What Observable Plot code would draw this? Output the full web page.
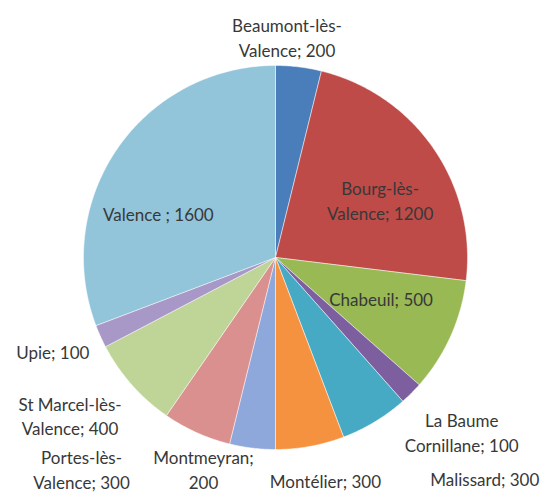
<!DOCTYPE html>
<html>
<head>
<meta charset="utf-8">
<script src="https://cdn.jsdelivr.net/npm/d3@7"></script>
<script src="https://cdn.jsdelivr.net/npm/@observablehq/plot@0.6"></script>
<style>
  html, body { margin: 0; padding: 0; background: #fff; }
  #chart { width: 546px; height: 495px; }
</style>
</head>
<body>
<div id="chart"></div>
<script>
// ---- data ----
const communes = [
  "Beaumont-lès-Valence", "Bourg-lès-Valence", "Chabeuil", "La Baume Cornillane",
  "Malissard", "Montélier", "Montmeyran", "Portes-lès-Valence",
  "St Marcel-lès-Valence", "Upie", "Valence"
];
const values = [200, 1200, 500, 100, 300, 300, 200, 300, 400, 100, 1600];
const labelTexts = [
  "Beaumont-lès-\nValence; 200", "Bourg-lès-\nValence; 1200", "Chabeuil; 500",
  "La Baume\nCornillane; 100", "Malissard; 300", "Montélier; 300",
  "Montmeyran;\n200", "Portes-lès-\nValence; 300", "St Marcel-lès-\nValence; 400",
  "Upie; 100", "Valence ; 1600"
];

// ---- styles / layout (kept separate from data) ----
const colors = [
  "#4A7EBB", "#BE4B48", "#98B954", "#7D5FA0", "#46AAC5", "#F59240",
  "#8FA8DC", "#D9908E", "#BED597", "#A898C8", "#92C4DA"
];
// label anchor positions in pie-radius units (x right, y up)
const labelX = [0.06, 0.545, 0.55, 0.97, 1.09, 0.26, -0.375, -1.01, -1.07, -1.16, -0.61];
const labelY = [1.15, 0.30, -0.21, -0.906, -1.15, -1.16, -1.10, -1.10, -0.82, -0.49, 0.23];

const pie = d3.pie().sort(null).value(d => d)(values);
const slicePts = [];
pie.forEach((a, i) => {
  slicePts.push({name: communes[i], x: 0, y: 0});
  const n = Math.max(4, Math.ceil((a.endAngle - a.startAngle) / 0.01));
  for (let k = 0; k <= n; k++) {
    const t = a.startAngle + (a.endAngle - a.startAngle) * k / n;
    slicePts.push({name: communes[i], x: Math.sin(t), y: Math.cos(t)});
  }
  slicePts.push({name: communes[i], x: 0, y: 0});
});
const labels = communes.map((c, i) => ({name: c, text: labelTexts[i], x: labelX[i], y: labelY[i]}));

const chart = Plot.plot({
  width: 546,
  height: 495,
  marginLeft: 83,
  marginRight: 79,
  marginTop: 65,
  marginBottom: 46,
  x: {domain: [-1, 1], axis: null},
  y: {domain: [-1, 1], axis: null},
  color: {domain: communes, range: colors},
  style: {fontFamily: "Lato, 'Open Sans', sans-serif", background: "#fff", overflow: "visible"},
  marks: [
    Plot.line(slicePts, {x: "x", y: "y", z: "name", fill: "name", stroke: "#ffffff", strokeWidth: 0.8, strokeOpacity: 0.6, curve: "linear"}),
    Plot.text(labels, {x: "x", y: "y", text: "text", fontSize: 17, lineHeight: 1.45, fill: "#383838", textAnchor: "middle"})
  ]
});
document.getElementById("chart").appendChild(chart);
</script>
</body>
</html>
